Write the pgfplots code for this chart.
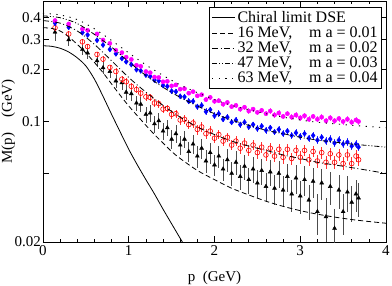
\documentclass[border=0pt]{standalone}
\usepackage{fontspec}
\setmainfont{Liberation Serif}
\usepackage{pgfplots}
\usepackage{pgfplotstable}
\pgfplotsset{compat=1.18}
\definecolor{mag}{RGB}{255,0,255}

\pgfplotstableread{
p M e
0.14 0.385 0.012
0.30 0.368 0.010
0.46 0.344 0.008
0.52 0.338 0.008
0.63 0.322 0.007
0.70 0.297 0.007
0.78 0.284 0.006
0.85 0.259 0.006
0.92 0.251 0.006
0.97 0.236 0.005
1.03 0.229 0.005
1.09 0.212 0.005
1.14 0.209 0.005
1.20 0.195 0.005
1.25 0.192 0.005
1.30 0.181 0.004
1.35 0.180 0.004
1.40 0.170 0.004
1.45 0.171 0.004
1.50 0.161 0.004
1.55 0.163 0.004
1.60 0.154 0.004
1.65 0.155 0.004
1.70 0.146 0.004
1.75 0.149 0.004
1.80 0.141 0.004
1.85 0.143 0.004
1.90 0.134 0.004
1.95 0.138 0.004
2.00 0.131 0.004
2.05 0.132 0.004
2.10 0.126 0.004
2.15 0.129 0.004
2.20 0.122 0.004
2.25 0.124 0.004
2.30 0.118 0.004
2.35 0.121 0.004
2.40 0.115 0.004
2.45 0.118 0.004
2.50 0.113 0.004
2.55 0.116 0.004
2.60 0.111 0.004
2.65 0.115 0.004
2.70 0.109 0.004
2.75 0.112 0.004
2.80 0.107 0.004
2.85 0.111 0.004
2.90 0.106 0.004
2.95 0.109 0.004
3.00 0.105 0.004
3.05 0.108 0.004
3.10 0.103 0.004
3.15 0.107 0.004
3.20 0.103 0.004
3.25 0.106 0.004
3.30 0.101 0.004
3.35 0.105 0.004
3.40 0.101 0.004
3.45 0.104 0.004
3.50 0.100 0.004
3.55 0.103 0.004
3.60 0.099 0.004
3.65 0.102 0.004
3.68 0.100 0.004
}\magdata

\pgfplotstableread{
p M e
0.14 0.372 0.012
0.30 0.352 0.010
0.46 0.328 0.008
0.52 0.318 0.008
0.63 0.296 0.007
0.70 0.278 0.007
0.78 0.262 0.006
0.85 0.247 0.006
0.92 0.232 0.006
0.97 0.222 0.005
1.03 0.214 0.005
1.09 0.200 0.005
1.14 0.197 0.005
1.20 0.186 0.005
1.25 0.183 0.005
1.30 0.174 0.005
1.35 0.172 0.005
1.40 0.162 0.005
1.45 0.160 0.005
1.50 0.150 0.005
1.55 0.149 0.005
1.60 0.140 0.005
1.65 0.139 0.005
1.70 0.131 0.005
1.75 0.131 0.005
1.80 0.122 0.005
1.85 0.124 0.005
1.90 0.114 0.005
1.95 0.117 0.005
2.00 0.108 0.005
2.05 0.111 0.005
2.10 0.103 0.004
2.15 0.106 0.004
2.20 0.099 0.004
2.25 0.102 0.004
2.30 0.096 0.004
2.35 0.099 0.004
2.40 0.093 0.004
2.45 0.096 0.004
2.50 0.091 0.004
2.55 0.094 0.004
2.60 0.089 0.004
2.65 0.092 0.004
2.70 0.087 0.004
2.75 0.090 0.004
2.80 0.085 0.004
2.85 0.088 0.004
2.90 0.083 0.004
2.95 0.086 0.004
3.00 0.082 0.004
3.05 0.085 0.004
3.10 0.080 0.004
3.15 0.083 0.004
3.20 0.078 0.004
3.25 0.081 0.004
3.30 0.077 0.004
3.35 0.079 0.004
3.40 0.075 0.004
3.45 0.078 0.004
3.50 0.074 0.004
3.55 0.076 0.004
3.60 0.072 0.004
3.65 0.074 0.004
3.68 0.071 0.004
}\bluedata

\pgfplotstableread{
p M e
0.14 0.350 0.016
0.30 0.322 0.013
0.46 0.290 0.011
0.52 0.272 0.010
0.63 0.245 0.009
0.70 0.230 0.009
0.78 0.206 0.008
0.85 0.195 0.008
0.92 0.176 0.008
0.97 0.170 0.008
1.03 0.160 0.007
1.09 0.153 0.007
1.14 0.146 0.007
1.20 0.139 0.007
1.25 0.138 0.007
1.30 0.128 0.007
1.35 0.127 0.007
1.40 0.118 0.006
1.45 0.119 0.006
1.50 0.110 0.006
1.55 0.111 0.006
1.60 0.102 0.006
1.65 0.103 0.006
1.70 0.096 0.006
1.75 0.098 0.006
1.80 0.090 0.006
1.85 0.093 0.006
1.90 0.085 0.006
1.95 0.088 0.006
2.00 0.080 0.005
2.05 0.084 0.005
2.10 0.077 0.005
2.15 0.081 0.005
2.20 0.073 0.005
2.25 0.077 0.005
2.30 0.070 0.005
2.35 0.075 0.005
2.40 0.068 0.005
2.45 0.073 0.005
2.50 0.066 0.005
2.55 0.071 0.005
2.60 0.064 0.005
2.65 0.070 0.005
2.70 0.063 0.005
2.75 0.069 0.005
2.80 0.062 0.005
2.85 0.069 0.005
2.90 0.061 0.005
2.95 0.068 0.005
3.00 0.062 0.005
3.05 0.068 0.005
3.10 0.060 0.005
3.15 0.067 0.005
3.20 0.059 0.005
3.25 0.066 0.005
3.30 0.058 0.005
3.35 0.065 0.005
3.40 0.058 0.005
3.45 0.064 0.005
3.50 0.057 0.005
3.55 0.064 0.005
3.60 0.057 0.005
3.65 0.063 0.005
3.68 0.060 0.005
}\reddata

\pgfplotstableread{
p M e
0.14 0.330 0.035
0.30 0.298 0.025
0.46 0.262 0.020
0.52 0.250 0.020
0.63 0.225 0.018
0.70 0.205 0.017
0.78 0.195 0.016
0.85 0.172 0.015
0.92 0.168 0.015
0.97 0.148 0.014
1.03 0.145 0.014
1.09 0.128 0.013
1.14 0.126 0.013
1.20 0.110 0.012
1.25 0.112 0.012
1.30 0.097 0.011
1.35 0.101 0.011
1.40 0.088 0.010
1.45 0.092 0.010
1.50 0.079 0.010
1.55 0.085 0.010
1.60 0.073 0.009
1.65 0.079 0.009
1.70 0.067 0.009
1.75 0.074 0.009
1.80 0.063 0.009
1.85 0.070 0.009
1.90 0.059 0.009
1.95 0.066 0.009
2.00 0.056 0.008
2.05 0.063 0.009
2.10 0.053 0.008
2.15 0.060 0.009
2.20 0.050 0.008
2.25 0.058 0.009
2.30 0.048 0.008
2.35 0.055 0.009
2.40 0.046 0.008
2.45 0.053 0.009
2.50 0.044 0.008
2.55 0.052 0.009
2.60 0.042 0.008
2.65 0.051 0.009
2.70 0.041 0.008
2.75 0.050 0.009
2.80 0.040 0.008
2.85 0.048 0.009
2.90 0.038 0.008
2.95 0.047 0.009
3.00 0.037 0.008
3.05 0.046 0.009
3.10 0.035 0.008
3.15 0.045 0.009
3.20 0.030 0.008
3.25 0.044 0.009
3.30 0.028 0.008
3.35 0.042 0.009
3.40 0.024 0.007
3.45 0.040 0.009
3.50 0.030 0.008
3.55 0.039 0.009
3.60 0.034 0.008
3.65 0.038 0.008
3.68 0.036 0.008
}\blackdata

\begin{document}
\begin{tikzpicture}
\begin{axis}[
  scale only axis,
  width=343pt, height=241pt,
  ymode=log,
  xmin=0, xmax=4, ymin=0.02, ymax=0.5,
  xtick={0,1,2,3,4},
  minor x tick num=4,
  ytick={0.02,0.05,0.1,0.2,0.3,0.4},
  yticklabels={0.02,,0.1,0.2,0.3,0.4},
  tick align=inside,
  major tick length=6pt,
  minor tick length=3.5pt,
  axis line style={line width=0.8pt},
  every tick/.style={black, line width=0.6pt},
  /pgf/number format/assume math mode=true,
  tick label style={font=\fontsize{15}{17}\selectfont},
  yticklabel style={inner sep=2pt},
  label style={font=\fontsize{15}{17}\selectfont},
  xlabel={p\ \ (GeV)},
  ylabel={M(p)\quad(GeV)},
  xlabel style={yshift=-9pt},
  ylabel style={yshift=-6pt},
  legend cell align=left,
  legend style={at={(1,1)}, anchor=north east, xshift=-4pt, yshift=-6pt,
    font=\fontsize{16}{16}\selectfont, draw=black, line width=0.6pt,
    row sep=-1pt, inner sep=2pt},
  legend image code/.code={\draw[#1] (0pt,0pt) -- (23pt,0pt);},
  error bars/y dir=both, error bars/y explicit,
  error bars/error mark=none,
  clip mode=individual,
]
% data
\addplot[forget plot, only marks, mark=triangle*, mark size=2.3pt, black,
  error bars/error bar style={black!70, line width=0.6pt}] table[x=p, y=M, y error=e]{\blackdata};
\addplot[forget plot, only marks, mark=o, mark size=2.4pt, red, mark options={line width=0.6pt},
  error bars/error bar style={red!80, line width=0.6pt}] table[x=p, y=M, y error=e]{\reddata};
\addplot[forget plot, only marks, mark=diamond*, mark size=2.6pt, blue,
  error bars/error bar style={blue!80, line width=0.6pt}] table[x=p, y=M, y error=e]{\bluedata};
\addplot[forget plot, only marks, mark=*, mark size=2.1pt, mag,
  error bars/error bar style={mag!80, line width=0.6pt}] table[x=p, y=M, y error=e]{\magdata};
% curves
\addplot[black, line width=0.8pt, smooth, no marks, error bars/y dir=none] coordinates {
(0,0.275) (0.1,0.273) (0.2,0.266) (0.3,0.253) (0.4,0.234) (0.5,0.21) (0.6,0.176)
(0.7,0.14) (0.8,0.11) (0.9,0.087) (1.0,0.069) (1.1,0.056) (1.2,0.046) (1.3,0.038)
(1.4,0.031) (1.5,0.0255) (1.6,0.021) (1.7,0.0174)};
\addlegendentry{Chiral limit DSE}
\addplot[black, line width=0.8pt, smooth, no marks, dash pattern=on 5pt off 3pt, error bars/y dir=none] coordinates {
(0,0.35) (0.1,0.347) (0.2,0.335) (0.3,0.31) (0.4,0.28) (0.5,0.25) (0.6,0.22) (0.7,0.192)
(0.8,0.165) (0.9,0.142) (1.0,0.123) (1.1,0.108) (1.2,0.095) (1.3,0.084) (1.4,0.075)
(1.5,0.067) (1.6,0.061) (1.8,0.052) (2.0,0.046) (2.2,0.041) (2.4,0.0375) (2.6,0.0345)
(2.8,0.0322) (3.0,0.0304) (3.2,0.029) (3.4,0.0279) (3.6,0.027) (3.8,0.0263) (4.0,0.0257)};
\addlegendentry{16 MeV,\hspace{0.8em} m a = 0.01}
\addplot[black, line width=0.8pt, smooth, no marks, dash pattern=on 6pt off 2.5pt on 1pt off 2.5pt, error bars/y dir=none] coordinates {
(0,0.385) (0.2,0.372) (0.4,0.335) (0.6,0.28) (0.8,0.225) (1.0,0.18) (1.2,0.148) (1.4,0.124)
(1.6,0.106) (1.8,0.093) (2.0,0.084) (2.2,0.077) (2.4,0.072) (2.6,0.068) (2.8,0.064)
(3.0,0.061) (3.2,0.058) (3.4,0.056) (3.6,0.054) (3.8,0.052) (4.0,0.05)};
\addlegendentry{32 MeV,\hspace{0.8em} m a = 0.02}
\addplot[black, line width=0.8pt, smooth, no marks, dash pattern=on 5pt off 2pt on 1pt off 2pt on 1pt off 2pt, error bars/y dir=none] coordinates {
(0,0.41) (0.2,0.40) (0.4,0.37) (0.6,0.32) (0.8,0.27) (1.0,0.222) (1.2,0.185) (1.4,0.158)
(1.6,0.138) (1.8,0.123) (2.0,0.111) (2.2,0.102) (2.4,0.095) (2.6,0.089) (2.8,0.085)
(3.0,0.081) (3.2,0.078) (3.4,0.076) (3.6,0.074) (3.8,0.0725) (4.0,0.071)};
\addlegendentry{47 MeV,\hspace{0.8em} m a = 0.03}
\addplot[black, line width=0.9pt, smooth, no marks, dash pattern=on 1.2pt off 5.5pt, error bars/y dir=none] coordinates {
(0,0.425) (0.2,0.415) (0.4,0.39) (0.6,0.345) (0.8,0.295) (1.0,0.25) (1.2,0.213) (1.4,0.185)
(1.6,0.163) (1.8,0.147) (2.0,0.134) (2.2,0.124) (2.4,0.117) (2.6,0.111) (2.8,0.106)
(3.0,0.102) (3.2,0.099) (3.4,0.097) (3.6,0.095) (3.8,0.0935) (4.0,0.092)};
\addlegendentry{63 MeV,\hspace{0.8em} m a = 0.04}
\end{axis}
\pgfresetboundingbox
\path[use as bounding box] (-43pt,-43pt) rectangle (349pt,242pt);
\end{tikzpicture}
\end{document}
